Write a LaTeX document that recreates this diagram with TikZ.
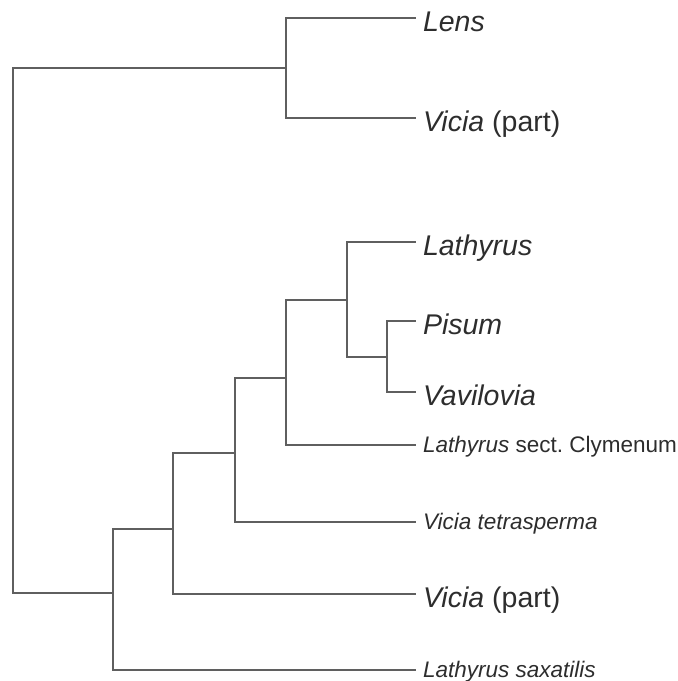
\documentclass[tikz,border=0pt]{standalone}
\usepackage{fontspec}
\setmainfont{Liberation Sans}
\usepackage{tikz}
\usetikzlibrary{positioning}

\definecolor{branchgray}{RGB}{95,95,95}
\definecolor{labelgray}{RGB}{45,45,45}
\frenchspacing

\begin{document}
\begin{tikzpicture}[x=1pt, y=-1pt,
        branch/.style={draw=branchgray, line width=2pt, line cap=rect},
        taxon/.style={anchor=west, inner sep=0pt, outer xsep=8pt, text height=26pt, text depth=0pt, text=labelgray, font=\fontsize{28.5}{30}\selectfont},
        smalltaxon/.style={taxon, text height=15.5pt, font=\fontsize{22.5}{24}\selectfont}]
        \useasboundingbox (0,0) rectangle (678,681);

        % internal nodes
        \coordinate (root) at (13,593);
        \coordinate (lensvicia) at (286,68);
        \coordinate (rest) at (113,593);
        \coordinate (withvicia) at (173,529);
        \coordinate (withtetra) at (235,453);
        \coordinate (withclym) at (286,378);
        \coordinate (lathpis) at (347,300);
        \coordinate (pisvav) at (387,357);

        % taxa
        \node[taxon] (lens) at (415,18) {\textit{Lens}};
        \node[taxon] (viciaA) at (415,118) {\textit{Vicia} (part)};
        \node[taxon] (lathyrus) at (415,242) {\textit{Lathyrus}};
        \node[taxon] (pisum) at (415,321) {\textit{Pisum}};
        \node[taxon] (vavilovia) at (415,392) {\textit{Vavilovia}};
        \node[smalltaxon] (clymenum) at (415,445) {\textit{Lathyrus} sect. Clymenum};
        \node[smalltaxon] (tetrasperma) at (415,522) {\textit{Vicia tetrasperma}};
        \node[taxon] (viciaB) at (415,594) {\textit{Vicia} (part)};
        \node[smalltaxon] (saxatilis) at (415,670) {\textit{Lathyrus saxatilis}};

        % branches
        \draw[branch] (root) |- (lensvicia);
        \draw[branch] (root) |- (rest);
        \draw[branch] (lensvicia) |- (lens);
        \draw[branch] (lensvicia) |- (viciaA);
        \draw[branch] (rest) |- (withvicia);
        \draw[branch] (rest) |- (saxatilis);
        \draw[branch] (withvicia) |- (withtetra);
        \draw[branch] (withvicia) |- (viciaB);
        \draw[branch] (withtetra) |- (withclym);
        \draw[branch] (withtetra) |- (tetrasperma);
        \draw[branch] (withclym) |- (lathpis);
        \draw[branch] (withclym) |- (clymenum);
        \draw[branch] (lathpis) |- (lathyrus);
        \draw[branch] (lathpis) |- (pisvav);
        \draw[branch] (pisvav) |- (pisum);
        \draw[branch] (pisvav) |- (vavilovia);
    \end{tikzpicture}
\end{document}
